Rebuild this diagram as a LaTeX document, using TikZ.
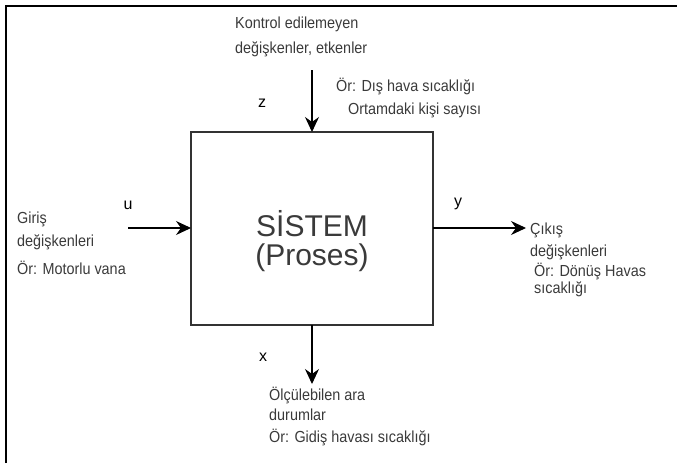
\documentclass[tikz,border=0pt]{standalone}
\usepackage{fontspec}
\setmainfont{Liberation Sans}
\newfontfamily\labelfont[FakeStretch=0.9]{Liberation Sans}
\usetikzlibrary{arrows.meta}
\definecolor{txtgray}{HTML}{3A3A3A}
\definecolor{boxgray}{HTML}{333333}
\begin{document}
\begin{tikzpicture}[x=1pt,y=-1pt,
  lbl/.style={font=\labelfont\fontsize{16}{18}\selectfont, text=txtgray, inner sep=0pt, anchor=base west},
  var/.style={font=\fontsize{16}{18}\selectfont, text=black, inner sep=0pt},
  big/.style={font=\fontsize{30}{34}\selectfont, text=txtgray, inner sep=0pt},
  flow/.style={line width=1.1pt, black, -{Stealth[length=15pt,width=14pt,inset=5pt]}}]
  \useasboundingbox (0,0) rectangle (677,463);

  % outer frame (top and left edges)
  \draw[line width=2pt, black] (6,463) -- (6,6) -- (677,6);

  % process block
  \draw[line width=1.5pt, boxgray] (191,132) rectangle (433,325);
  \coordinate (boxN) at (312,132);
  \coordinate (boxW) at (191,228);
  \coordinate (boxE) at (433,228);
  \coordinate (boxS) at (312,325);
  \node[big] (sys) at (312,224) {SİSTEM};
  \node[big] (pro) at (312,258) {(Proses)};

  % disturbances
  \coordinate (zsrc) at (312,70);
  \draw[flow] (zsrc) -- (boxN);
  \node[lbl] (k1) at (235,28) {Kontrol edilemeyen};
  \node[lbl] (k2) at (235,53) {değişkenler, etkenler};
  \node[var] (z) at (262,103) {z};
  \node[lbl] (k3) at (336,91) {Ör: Dış hava sıcaklığı};
  \node[lbl] (k4) at (348,114) {Ortamdaki kişi sayısı};

  % inputs
  \coordinate (usrc) at (128,228);
  \draw[flow] (usrc) -- (boxW);
  \node[var] (u) at (128,205) {u};
  \node[lbl] (g1) at (17,223) {Giriş};
  \node[lbl] (g2) at (17,246) {değişkenleri};
  \node[lbl] (g3) at (17,274) {Ör: Motorlu vana};

  % outputs
  \coordinate (ydst) at (526,228);
  \draw[flow] (boxE) -- (ydst);
  \node[var] (y) at (458,204) {y};
  \node[lbl] (c1) at (530,234) {Çıkış};
  \node[lbl] (c2) at (530,256) {değişkenleri};
  \node[lbl] (c3) at (534,276) {Ör: Dönüş Havas};
  \node[lbl] (c4) at (534,293) {sıcaklığı};

  % measurable states
  \coordinate (xdst) at (312,384);
  \draw[flow] (boxS) -- (xdst);
  \node[var] (x) at (263,357) {x};
  \node[lbl] (o1) at (269,400) {Ölçülebilen ara};
  \node[lbl] (o2) at (269,420) {durumlar};
  \node[lbl] (o3) at (269,442) {Ör: Gidiş havası sıcaklığı};
\end{tikzpicture}
\end{document}
